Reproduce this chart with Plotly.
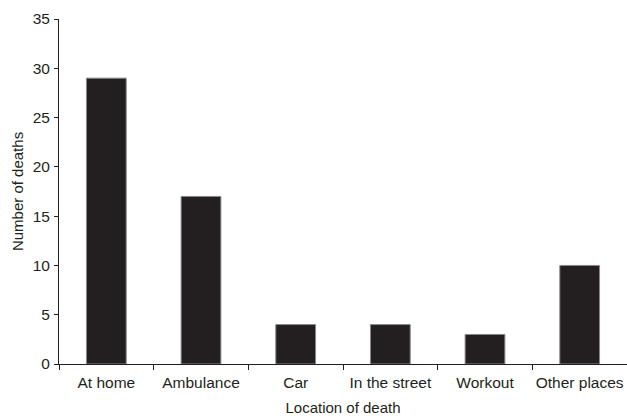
import plotly.graph_objects as go

categories = ["At home", "Ambulance", "Car", "In the street", "Workout", "Other places"]
deaths = [29, 17, 4, 4, 3, 10]

fig = go.Figure(go.Bar(
    x=categories, y=deaths, width=0.42,
    marker=dict(color="#231f20", line=dict(color="#8a8a8a", width=1)),
))

font = dict(family="Liberation Sans, Arial, sans-serif", size=15.5, color="#231f20")
fig.update_layout(
    width=627, height=418,
    margin=dict(l=59, r=0, t=19, b=54, autoexpand=False),
    paper_bgcolor="white", plot_bgcolor="white",
    font=font, showlegend=False,
)
fig.update_xaxes(
    title=dict(text="Location of death", standoff=12, font=dict(size=15)),
    showline=True, linecolor="#231f20", linewidth=1,
    ticks="outside", ticklen=5, tickcolor="#231f20",
    ticklabelstandoff=4, tickangle=0, automargin=False,
    tickson="boundaries", showgrid=False,
)
fig.update_yaxes(
    title=dict(text="Number of deaths", standoff=5, font=dict(size=15)),
    range=[0, 35], dtick=5,
    showline=True, linecolor="#231f20", linewidth=1,
    ticks="outside", ticklen=4, tickcolor="#231f20",
    ticklabelstandoff=1, automargin=False,
    showgrid=False, zeroline=False,
)
fig.write_html("out.html", config={"displayModeBar": False},
               post_script="document.body.style.margin='0';")
